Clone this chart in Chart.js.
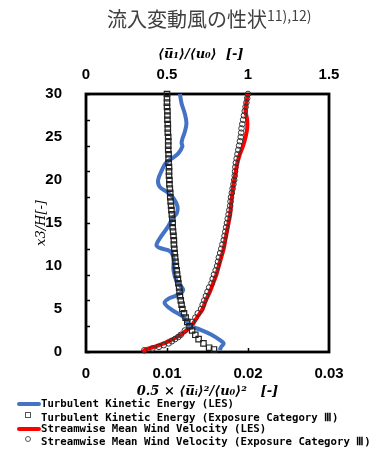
<!DOCTYPE html>
<html>
<head>
<meta charset="utf-8">
<script src="https://cdn.jsdelivr.net/npm/chart.js@4"></script>
<style>
  body { margin: 0; background: #fff; }
  #wrap { position: relative; width: 383px; height: 450px; }
  .title { position: absolute; left: 107px; top: 6px; font-family: 'Noto Sans CJK JP', sans-serif; font-size: 20px; color: #404040; white-space: nowrap; line-height: 26px; }
  .title sup { font-size: 14px; vertical-align: 6px; line-height: 0; }
  .leg { position: absolute; left: 0; width: 383px; height: 13px; font-family: 'DejaVu Sans Mono', monospace; font-weight: bold; font-size: 10.7px; line-height: 13px; color: #000; white-space: nowrap; }
  .leg span.t { position: absolute; left: 41px; top: 0; }
  .sym { position: absolute; }
</style>
</head>
<body>
<div id="wrap">
  <canvas id="profileChart"></canvas>
  <div class="title">流入変動風の性状<sup>11),12)</sup></div>
  <div class="leg" style="top:397px"><div class="sym" style="left:17px;top:5px;width:24px;height:4px;background:#4472C4;border-radius:2px"></div><span class="t">Turbulent Kinetic Energy (LES)</span></div>
  <div class="leg" style="top:411px"><div class="sym" style="left:25px;top:1px;width:4px;height:4px;border:1px solid #555"></div><span class="t">Turbulent Kinetic Energy (Exposure Category Ⅲ)</span></div>
  <div class="leg" style="top:422px"><div class="sym" style="left:17px;top:5px;width:24px;height:4px;background:#FF0000;border-radius:2px"></div><span class="t">Streamwise Mean Wind Velocity (LES)</span></div>
  <div class="leg" style="top:435px"><div class="sym" style="left:25px;top:1px;width:4px;height:4px;border:1px solid #555;border-radius:50%"></div><span class="t">Streamwise Mean Wind Velocity (Exposure Category Ⅲ)</span></div>
</div>
<script>
// heights x3/H and values
const tkeLesH = [0.2, 0.6, 1.0, 1.4, 2.0, 2.6, 3.1, 4.1, 4.9, 5.7, 6.2, 6.6, 7.2, 8.2, 9.5, 10.9, 11.7, 12.1, 12.4, 13.2,
                 14.4, 15.7, 16.1, 16.9, 17.9, 18.6, 19.2, 20.0, 21.2, 21.9, 22.5, 23.1, 23.9, 24.3, 24.8, 25.6, 26.6, 27.7, 28.9, 30.0];
const tkeLes = [0.0165, 0.0167, 0.0170, 0.0165, 0.0155, 0.0141, 0.0128, 0.0120, 0.0106, 0.0097, 0.0102, 0.0112, 0.0120, 0.0112, 0.0108, 0.0108, 0.0104, 0.0091, 0.0087, 0.0091,
                0.0100, 0.0108, 0.0112, 0.0113, 0.0108, 0.0100, 0.0091, 0.0089, 0.0094, 0.0098, 0.0106, 0.0114, 0.0119, 0.0118, 0.0119, 0.0122, 0.0124, 0.0122, 0.0118, 0.0116];

const tkeExpH = [0.3, 0.5, 1.0, 1.5, 2.0, 2.5, 3.0, 3.5, 4.0, 4.5, 5.0, 5.5, 6.0, 6.5, 7.0, 7.5, 8.0, 8.5, 9.0, 9.5,
                 10, 10.5, 11, 11.5, 12, 12.5, 13, 13.5, 14, 14.5, 15, 15.5, 16, 16.5, 17, 17.5, 18, 18.5, 19, 19.5,
                 20, 20.5, 21, 21.5, 22, 22.5, 23, 23.5, 24, 24.5, 25, 25.5, 26, 26.5, 27, 27.5, 28, 28.5, 29, 29.5, 30];
const tkeExp = [0.0158, 0.0152, 0.0145, 0.0139, 0.0135, 0.0131, 0.0128, 0.0125, 0.0123, 0.0121, 0.0119, 0.0118, 0.0117, 0.0116, 0.01155, 0.0115, 0.0114, 0.01135, 0.01125, 0.0112,
                0.0111, 0.01105, 0.0110, 0.01095, 0.0109, 0.01085, 0.01085, 0.0108, 0.01075, 0.0107, 0.0107, 0.01065, 0.0106, 0.01055, 0.0105, 0.01045, 0.0104, 0.0104, 0.01035, 0.0103,
                0.0103, 0.01025, 0.01025, 0.01025, 0.0102, 0.0102, 0.0102, 0.01015, 0.01015, 0.01015, 0.01015, 0.0101, 0.0101, 0.0101, 0.01005, 0.01005, 0.01005, 0.0100, 0.0100, 0.0100, 0.0100];

const velLesH = [0.0, 0.3, 0.6, 1.0, 1.5, 2.0, 2.5, 3.0, 4.0, 5.0, 6.0, 7.0, 8.0, 9.0, 10, 11, 12, 13, 14, 15,
                 16, 17, 18, 19, 20, 21, 22, 23, 24, 25, 26, 27, 28, 29, 30];
const velLes = [0.35, 0.37, 0.42, 0.48, 0.535, 0.585, 0.62, 0.65, 0.685, 0.72, 0.74, 0.765, 0.785, 0.805, 0.82, 0.835, 0.85, 0.86, 0.87, 0.88,
                0.89, 0.895, 0.90, 0.907, 0.915, 0.925, 0.935, 0.95, 0.97, 0.985, 0.995, 0.995, 0.985, 0.99, 1.0];

const velExpH = [0.2, 0.4, 0.6, 0.8, 1.0, 1.25, 1.5, 1.75, 2.0, 2.5, 3.0, 3.5, 4.0, 4.5, 5.0, 5.5, 6.0, 6.5, 7.0, 7.5,
                 8.0, 8.5, 9.0, 9.5, 10, 10.5, 11, 11.5, 12, 12.5, 13, 13.5, 14, 14.5, 15, 15.5, 16, 16.5, 17, 17.5,
                 18, 18.5, 19, 19.5, 20, 20.5, 21, 21.5, 22, 22.5, 23, 23.5, 24, 24.5, 25, 25.5, 26, 26.5, 27, 27.5,
                 28, 28.5, 29, 29.5, 30];
const velExp = [0.36, 0.41, 0.45, 0.48, 0.51, 0.53, 0.55, 0.57, 0.585, 0.61, 0.635, 0.655, 0.675, 0.69, 0.71, 0.72, 0.73, 0.74, 0.75, 0.76,
                0.775, 0.782, 0.79, 0.80, 0.81, 0.815, 0.82, 0.828, 0.835, 0.842, 0.85, 0.855, 0.86, 0.865, 0.87, 0.875, 0.88, 0.885, 0.89, 0.892,
                0.895, 0.9, 0.905, 0.91, 0.915, 0.918, 0.92, 0.922, 0.925, 0.93, 0.935, 0.94, 0.945, 0.95, 0.955, 0.958, 0.96, 0.965, 0.97, 0.975,
                0.98, 0.985, 0.99, 0.995, 1.0];

const bottomTickLabels = ['0', '0.01', '0.02', '0.03'];
const topTickLabels = ['0', '0.5', '1', '1.5'];
const heightTickLabels = ['0', '5', '10', '15', '20', '25', '30'];

function pts(xs, hs) {
    return xs.map(function(v, i) { return { x: v, y: hs[i] }; });
}

// frame round the plot and the small inward tick marks
const framePlugin = {
    id: 'frame',
    beforeDatasetsDraw(chart) {
        const { ctx, chartArea: a, scales } = chart;
        ctx.save();
        ctx.strokeStyle = '#000';
        ctx.lineWidth = 1.5;
        for (let h = 0; h <= 30; h += 3) {
            const y = Math.round(scales.y.getPixelForValue(h)) + 0.5;
            ctx.beginPath();
            ctx.moveTo(a.left, y);
            ctx.lineTo(a.left + 4, y);
            ctx.stroke();
        }
        [0.01, 0.02].forEach(function(v) {
            const x = Math.round(scales.x.getPixelForValue(v)) + 0.5;
            ctx.beginPath();
            ctx.moveTo(x, a.bottom);
            ctx.lineTo(x, a.bottom - 4);
            ctx.stroke();
        });
        ctx.lineWidth = 2.8;
        ctx.strokeRect(a.left, a.top, a.right - a.left, a.bottom - a.top);
        ctx.restore();
    }
};

const ctx = document.getElementById('profileChart').getContext('2d');

new Chart(ctx, {
    type: 'scatter',
    data: {
        datasets: [
            {
                label: 'Turbulent Kinetic Energy (Exposure Category Ⅲ)',
                data: pts(tkeExp, tkeExpH),
                xAxisID: 'x',
                pointStyle: 'rect',
                pointRadius: 3.8,
                borderColor: '#222',
                backgroundColor: 'rgba(255,255,255,0)',
                borderWidth: 1.2,
                showLine: false,
                clip: false,
                order: 0
            },
            {
                label: 'Streamwise Mean Wind Velocity (Exposure Category Ⅲ)',
                data: pts(velExp, velExpH),
                xAxisID: 'x2',
                pointStyle: 'circle',
                pointRadius: 2.8,
                borderColor: '#333',
                backgroundColor: 'rgba(255,255,255,0)',
                borderWidth: 1,
                showLine: false,
                clip: false,
                order: 0
            },
            {
                label: 'Turbulent Kinetic Energy (LES)',
                data: pts(tkeLes, tkeLesH),
                xAxisID: 'x',
                showLine: true,
                borderColor: '#4472C4',
                borderWidth: 4,
                pointRadius: 0,
                tension: 0.35,
                clip: false,
                order: 1
            },
            {
                label: 'Streamwise Mean Wind Velocity (LES)',
                data: pts(velLes, velLesH),
                xAxisID: 'x2',
                showLine: true,
                borderColor: '#FF0000',
                borderWidth: 4,
                pointRadius: 0,
                tension: 0.3,
                clip: false,
                order: 1
            }
        ]
    },
    options: {
        responsive: true,
        maintainAspectRatio: false,
        animation: false,
        layout: { padding: { top: 40, left: 0, right: 54, bottom: 50 } },
        plugins: {
            legend: { display: false },
            tooltip: { enabled: false }
        },
        scales: {
            x: {
                type: 'linear',
                position: 'bottom',
                min: 0,
                max: 0.03,
                afterFit: function(scale) { scale.height = 48; },
                grid: { display: false },
                border: { display: false },
                ticks: {
                    stepSize: 0.01,
                    padding: 5,
                    color: '#000',
                    font: { family: 'Liberation Sans', weight: 'bold', size: 15 },
                    callback: function(value, index) { return bottomTickLabels[index]; }
                },
                title: {
                    display: true,
                    text: '0.5 × ⟨u\u0305\u1D62⟩²/⟨u₀⟩²   [-]',
                    color: '#000',
                    padding: { top: 0, bottom: 1 },
                    font: { family: 'DejaVu Serif', weight: 'bold', style: 'italic', size: 13 }
                }
            },
            x2: {
                type: 'linear',
                position: 'top',
                min: 0,
                max: 1.5,
                afterFit: function(scale) { scale.height = 54; },
                grid: { display: false },
                border: { display: false },
                ticks: {
                    stepSize: 0.5,
                    padding: 2,
                    color: '#000',
                    font: { family: 'Liberation Sans', weight: 'bold', size: 15 },
                    callback: function(value, index) { return topTickLabels[index]; }
                },
                title: {
                    display: true,
                    text: '⟨u\u0305₁⟩/⟨u₀⟩  [-]   ',
                    color: '#000',
                    padding: { top: 7, bottom: 0 },
                    font: { family: 'DejaVu Serif', weight: 'bold', style: 'italic', size: 13 }
                }
            },
            y: {
                type: 'linear',
                position: 'left',
                min: 0,
                max: 30,
                afterFit: function(scale) { scale.width = 86; },
                grid: { display: false },
                border: { display: false },
                ticks: {
                    stepSize: 5,
                    padding: 16,
                    color: '#000',
                    font: { family: 'Liberation Sans', weight: 'bold', size: 15 },
                    callback: function(value, index) { return heightTickLabels[index]; }
                },
                title: {
                    display: true,
                    text: 'x3/H[-]',
                    color: '#000',
                    padding: { top: 34, bottom: 0 },
                    font: { family: 'DejaVu Serif', style: 'italic', size: 13 }
                }
            }
        }
    },
    plugins: [framePlugin]
});
</script>
</body>
</html>
